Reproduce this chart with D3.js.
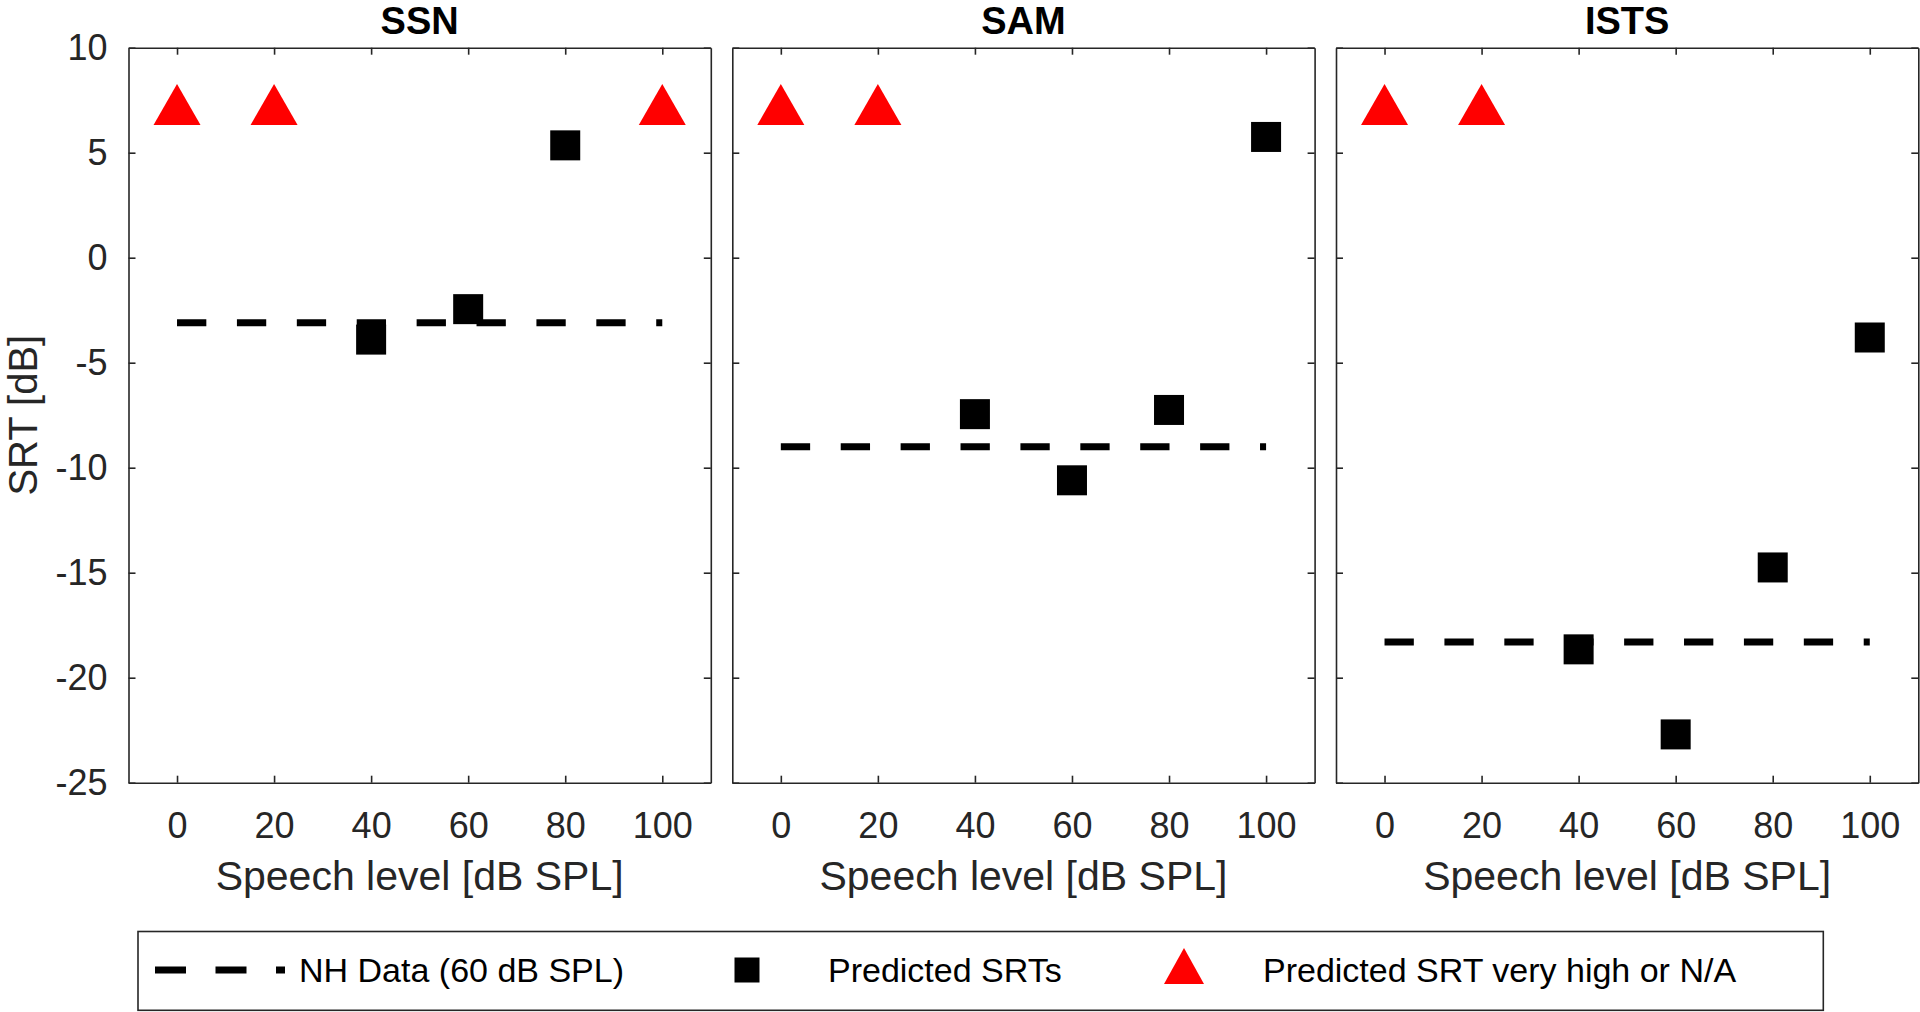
<!DOCTYPE html>
<html lang="en">
<head>
    <meta charset="UTF-8">
    <title>SRT vs speech level</title>
    <style>
        body { margin: 0; background: #fff; }
        svg { display: block; font-family: "Liberation Sans", Arial, Helvetica, sans-serif; }
        .axis path, .axis line { stroke: #262626; stroke-width: 1.6; }
        .axis text { fill: #262626; font-size: 36px; font-family: "Liberation Sans", Arial, sans-serif; }
    </style>
</head>
<body>
    <div id="chart"></div>
    <script src="https://d3js.org/d3.v7.min.js"></script>
    <script>
        // data
        const panels = ["SSN", "SAM", "ISTS"];
        const levels = [0, 20, 40, 60, 80, 100];
        const ssnPred = [null, null, -3.9, -2.45, 5.35, null];
        const samPred = [null, null, -7.45, -10.6, -7.25, 5.75];
        const istsPred = [null, null, -18.65, -22.7, -14.75, -3.8];
        const nhData = [-3.1, -9.0, -18.3];   // NH data at 60 dB SPL
        const naLevel = 7.3;                  // where the "very high / N/A" triangles sit
        const xTicks = [0, 20, 40, 60, 80, 100];
        const yTicks = [-25, -20, -15, -10, -5, 0, 5, 10];
        const legendLabels = ["NH Data (60 dB SPL)", "Predicted SRTs", "Predicted SRT very high or N/A"];

        const preds = [ssnPred, samPred, istsPred];

        const W = 1920, H = 1012;
        const panelLeft = [128.5, 732.3, 1336];
        const panelW = 582.3;
        const plotTop = 47.7, plotBottom = 782.7;

        const svg = d3.select("#chart")
            .append("svg")
            .attr("width", W)
            .attr("height", H);

        const y = d3.scaleLinear().domain([-25, 10]).range([plotBottom, plotTop]);
        const fmt = d => String(d);   // plain hyphen minus like matlab

        // triangle centred on its bounding box
        function tri(w, h) {
            return `M0,${-h / 2}L${w / 2},${h / 2}L${-w / 2},${h / 2}Z`;
        }

        panels.forEach((name, i) => {
            const x = d3.scaleLinear()
                .domain([-10, 110])
                .range([panelLeft[i], panelLeft[i] + panelW]);

            const g = svg.append("g");

            // bottom and top axes (ticks point inward)
            g.append("g")
                .attr("class", "axis")
                .attr("transform", `translate(0,${plotBottom})`)
                .call(d3.axisBottom(x).tickValues(xTicks).tickFormat(fmt).tickSizeInner(-7).tickSizeOuter(0).tickPadding(30));
            g.append("g")
                .attr("class", "axis")
                .attr("transform", `translate(0,${plotTop})`)
                .call(d3.axisTop(x).tickValues(xTicks).tickSizeInner(-7).tickSizeOuter(0).tickFormat(""));

            const yl = g.append("g")
                .attr("class", "axis")
                .attr("transform", `translate(${x.range()[0]},0)`)
                .call(d3.axisLeft(y).tickValues(yTicks).tickFormat(fmt).tickSizeInner(-7).tickSizeOuter(0).tickPadding(21));
            if (i > 0) yl.selectAll("text").remove();
            g.append("g")
                .attr("class", "axis")
                .attr("transform", `translate(${x.range()[1]},0)`)
                .call(d3.axisRight(y).tickValues(yTicks).tickSizeInner(-7).tickSizeOuter(0).tickFormat(""));

            // title
            g.append("text")
                .attr("x", (x.range()[0] + x.range()[1]) / 2)
                .attr("y", 34)
                .attr("text-anchor", "middle")
                .attr("font-weight", "bold")
                .attr("font-size", 38)
                .text(name);

            // x label
            g.append("text")
                .attr("x", (x.range()[0] + x.range()[1]) / 2)
                .attr("y", 890)
                .attr("text-anchor", "middle")
                .attr("font-size", 41)
                .attr("fill", "#262626")
                .text("Speech level [dB SPL]");

            // NH dashed line
            g.append("line")
                .attr("x1", x(0))
                .attr("x2", x(100))
                .attr("y1", y(nhData[i]))
                .attr("y2", y(nhData[i]))
                .attr("stroke", "#000")
                .attr("stroke-width", 7)
                .attr("stroke-dasharray", "29.3,30.6");

            const pts = levels.map((l, j) => ({ level: l, v: preds[i][j] }));

            // predicted SRT squares
            g.selectAll(".sq")
                .data(pts.filter(d => d.v !== null))
                .join("rect")
                .attr("x", d => x(d.level) - 15)
                .attr("y", d => y(d.v) - 15)
                .attr("width", 30)
                .attr("height", 30)
                .attr("fill", "#000");

            // very high / N/A triangles
            g.selectAll(".tri")
                .data(pts.filter(d => d.v === null))
                .join("path")
                .attr("d", tri(47, 41))
                .attr("transform", d => `translate(${x(d.level)},${y(naLevel)})`)
                .attr("fill", "#ff0000");
        });

        // y label
        svg.append("text")
            .attr("transform", `translate(37,${(plotTop + plotBottom) / 2}) rotate(-90)`)
            .attr("text-anchor", "middle")
            .attr("font-size", 40)
            .attr("fill", "#262626")
            .text("SRT [dB]");

        // legend
        const lg = svg.append("g");
        lg.append("rect")
            .attr("x", 138)
            .attr("y", 931.5)
            .attr("width", 1823.3 - 138)
            .attr("height", 1010.3 - 931.5)
            .attr("fill", "#fff")
            .attr("stroke", "#262626")
            .attr("stroke-width", 1.6);
        const ly = 970;
        lg.append("line")
            .attr("x1", 155).attr("x2", 285)
            .attr("y1", ly).attr("y2", ly)
            .attr("stroke", "#000")
            .attr("stroke-width", 7)
            .attr("stroke-dasharray", "31,29.5");
        lg.append("rect")
            .attr("x", 747 - 12.5).attr("y", ly - 12.5)
            .attr("width", 25).attr("height", 25)
            .attr("fill", "#000");
        lg.append("path")
            .attr("d", tri(40, 36))
            .attr("transform", `translate(1184,${ly - 4})`)
            .attr("fill", "#ff0000");
        const textX = [299, 828, 1263];
        legendLabels.forEach((t, k) => {
            lg.append("text")
                .attr("x", textX[k])
                .attr("y", ly + 12)
                .attr("font-size", 34)
                .attr("fill", "#000")
                .text(t);
        });
    </script>
</body>
</html>
